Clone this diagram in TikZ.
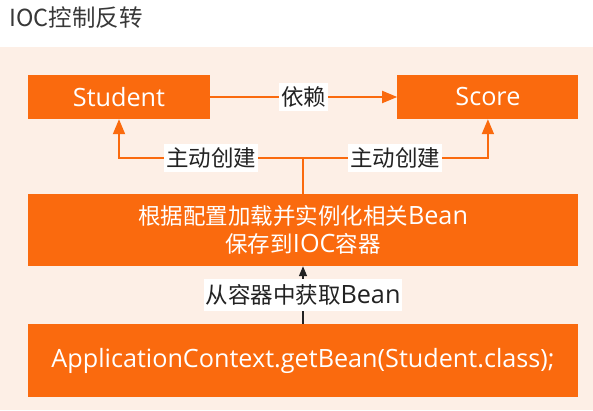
\documentclass[tikz,border=0pt]{standalone}
\usepackage{fontspec}
\setmainfont{Open Sans}[Scale=1.12]
\newfontfamily\cjk{Noto Sans CJK SC}
\usetikzlibrary{positioning,arrows.meta}
\definecolor{boxorange}{RGB}{250,106,14}
\definecolor{peach}{RGB}{253,239,230}
\definecolor{inkgray}{RGB}{34,34,34}

\begin{document}
\begin{tikzpicture}[x=1pt, y=1pt,
						box/.style={rectangle, fill=boxorange, text=white, minimum height=44pt, inner sep=0pt, font=\fontsize{22.5}{27.5}\selectfont},
						wide/.style={box, minimum width=550pt, align=center},
						tag/.style={rectangle, fill=white, text=inkgray, inner xsep=2pt, inner ysep=0pt, minimum height=28pt, font=\fontsize{22.5}{27.5}\selectfont},
						flow/.style={draw=boxorange, line width=1.8pt},
						title/.style={text=inkgray!90, inner sep=0pt, font=\fontsize{23.5}{26}\selectfont}
					]
					\useasboundingbox (0,0) rectangle (593,410);
					\fill[peach] (0,0) rectangle (593,363);
					\node[title, anchor=west] (title) at (9,392) {\cjk IOC控制反转};
					\node[box, minimum width=182pt] (student) at (119,313) {Student};
					\node[box, minimum width=181pt] (score) [right=187pt of student] {Score};
					\node[wide, minimum height=72pt] (container) at (303,180) {{\cjk 根据配置加载并实例化相关}Bean\\{\cjk 保存到}IOC{\cjk 容器}};
					\node[wide, minimum height=73pt] (getbean) [below=58pt of container] {ApplicationContext.getBean(Student.class);};
					\coordinate[above=36pt of container.north] (split);
					\draw[flow] (container.north) -- (split);
					\begin{scope}[-{Triangle[length=15pt, width=12pt]}]
					\draw[flow] (student.east) -- (score.west) node[tag, midway] {\cjk 依赖};
					\draw[flow] (split) -| (student.south) node[tag, pos=0.25] {\cjk 主动创建};
					\draw[flow] (split) -| (score.south) node[tag, pos=0.25] {\cjk 主动创建};
					\end{scope}
					\draw[-{Triangle[length=10pt, width=8pt]}, draw=inkgray, fill=inkgray, line width=1.5pt] (getbean.north) -- (container.south) node[tag, midway, minimum height=32pt] {{\cjk 从容器中获取}Bean};
					\end{tikzpicture}
\end{document}
